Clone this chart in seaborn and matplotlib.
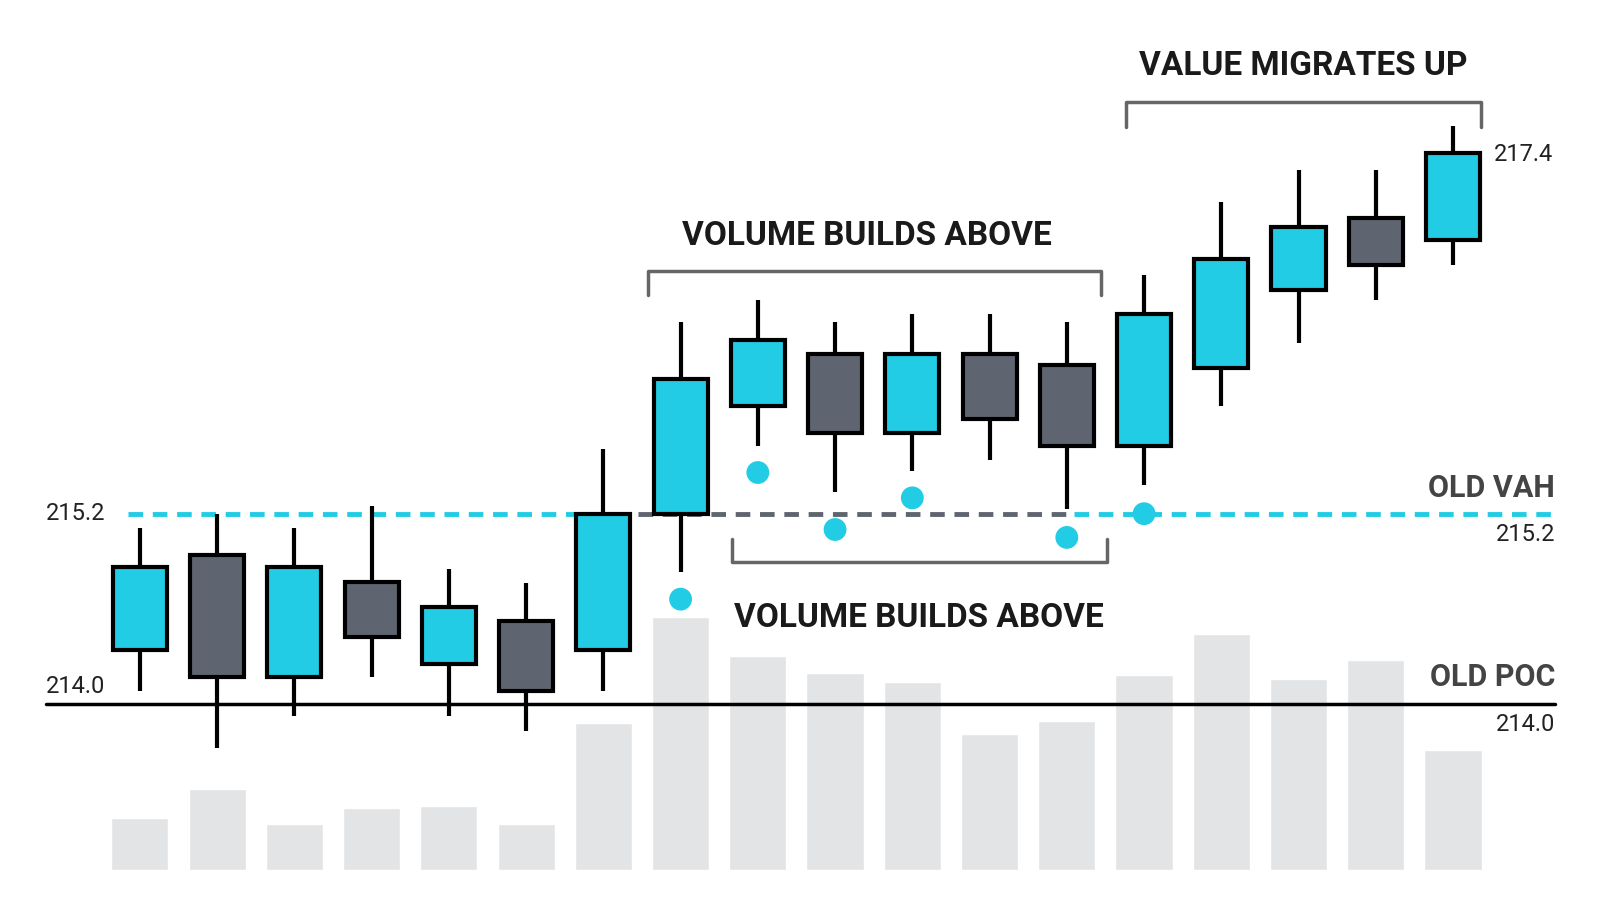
import numpy as np
import matplotlib
matplotlib.use("Agg")
import matplotlib.pyplot as plt
import seaborn as sns

sns.set_theme(style="white")
plt.rcParams['font.family'] = ['Roboto', 'DejaVu Sans']

opens  = [214.34, 214.94, 214.17, 214.77, 214.25, 214.52, 214.34, 215.20, 215.88,
          216.21, 215.71, 216.21, 216.14, 215.63, 216.12, 216.61, 217.07, 216.93]
closes = [214.86, 214.17, 214.86, 214.42, 214.61, 214.08, 215.20, 216.05, 216.30,
          215.71, 216.21, 215.80, 215.63, 216.46, 216.81, 217.01, 216.77, 217.48]
highs  = [215.11, 215.20, 215.11, 215.25, 214.85, 214.76, 215.61, 216.41, 216.55,
          216.41, 216.46, 216.46, 216.41, 216.71, 217.17, 217.37, 217.37, 217.65]
lows   = [214.08, 213.72, 213.92, 214.17, 213.92, 213.83, 214.08, 214.83, 215.63,
          215.34, 215.47, 215.54, 215.23, 215.38, 215.88, 216.28, 216.55, 216.77]
volume = [51, 79, 45, 61, 63, 45, 144, 248, 210, 193, 184, 133, 146, 191, 231, 187, 206, 118]
dot_idx = [7, 8, 9, 10, 12, 13]
dot_px  = [214.66, 215.46, 215.10, 215.30, 215.05, 215.20]
old_vah = 215.2
old_poc = 214.0
last_px = 217.4

CYAN = "#22CCE4"
GRAY = "#5F6570"
VOLC = "#E3E4E6"

fig = plt.figure(figsize=(16, 9.14), dpi=100)
ax = fig.add_axes([0, 0, 1, 1])
axv = ax.twinx()
ax.set_zorder(2); ax.patch.set_visible(False)
axv.set_zorder(1)

# layout measured on a scaled copy of the reference
W, H = 1567, 895
step = 75.65
x0 = 137
ax.set_xlim((0 - x0) / step, (W - x0) / step)
ax.set_ylim(215.2 - (H - 503) / 155, 215.2 + 503 / 155)
axv.set_ylim(-(H - 852), 852)

def px(x, y):
    return (x - x0) / step, 215.2 + (503 - y) / 155

idx = np.arange(len(opens))
sns.barplot(x=idx, y=volume, ax=axv, color=VOLC, width=0.74, native_scale=True, saturation=1)
axv.set_xlim(ax.get_xlim())

for i in idx:
    o, c, h, l = opens[i], closes[i], highs[i], lows[i]
    col = CYAN if c > o else GRAY
    ax.plot([i, i], [l, h], color="black", lw=3, zorder=3, solid_capstyle="butt")
    ax.add_patch(plt.Rectangle((i - 0.35, min(o, c)), 0.7, abs(c - o), facecolor=col,
                               edgecolor="black", lw=3, zorder=4))

sns.scatterplot(x=dot_idx, y=dot_px, ax=ax, color=CYAN, s=270, edgecolor="none", zorder=5)

# levels
xa, _ = px(125, 0); xb, _ = px(625, 0); xc, _ = px(1052, 0); xd, _ = px(1523, 0); xe, _ = px(45, 0)
ax.plot([xa, xb], [old_vah] * 2, color=CYAN, lw=3.5, ls=(0, (3, 2)), zorder=2)
ax.plot([xb, xc], [old_vah] * 2, color=GRAY, lw=3.5, ls=(0, (3, 2)), zorder=2)
ax.plot([xc, xd], [old_vah] * 2, color=CYAN, lw=3.5, ls=(0, (3, 2)), zorder=2)
ax.plot([xe, xd], [old_poc] * 2, color="black", lw=2.5, zorder=2)

lab = dict(fontsize=17, color="#222222")
ax.text(xe, old_vah + 0.0, "215.2", ha="left", va="center", **lab)
ax.text(xe, old_poc + 0.11, "214.0", ha="left", va="center", **lab)
ax.text(xd, old_vah - 0.13, "215.2", ha="right", va="center", **lab)
ax.text(xd, old_poc - 0.13, "214.0", ha="right", va="center", **lab)
ax.text(xd, old_vah + 0.16, "OLD VAH", ha="right", va="center", fontsize=22,
        fontweight="bold", color="#444444")
ax.text(xd, old_poc + 0.17, "OLD POC", ha="right", va="center", fontsize=22,
        fontweight="bold", color="#444444")
tx, ty = px(1463, 151)
ax.text(tx, ty, f"{last_px:.1f}", ha="left", va="center", **lab)

def bracket(x1, x2, y, y_tip, text, tx, ty):
    a = px(x1, y); b = px(x2, y); ta = px(x1, y_tip); tb = px(x2, y_tip)
    ax.plot([ta[0], a[0], b[0], tb[0]], [ta[1], a[1], b[1], tb[1]], color="#666666", lw=2.5)
    p = px(tx, ty)
    ax.text(p[0], p[1], text, ha="center", va="center", fontsize=24, fontweight="bold",
            color="#1a1a1a")

bracket(1103, 1450, 100, 124, "VALUE MIGRATES UP", 1276, 65)
bracket(635, 1078, 265, 289, "VOLUME BUILDS ABOVE", 849, 231)
bracket(717, 1084, 550, 528, "VOLUME BUILDS ABOVE", 900, 605)

for a in (ax, axv):
    a.axis("off")

fig.savefig("out.png", dpi=100)
